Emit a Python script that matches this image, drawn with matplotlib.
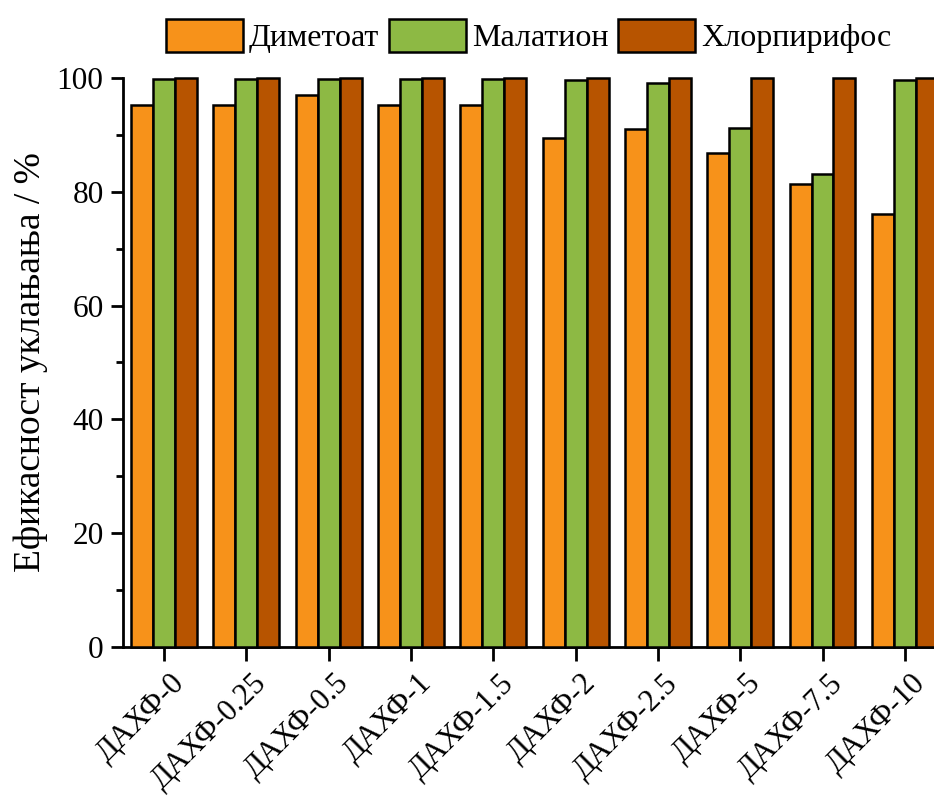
import matplotlib
matplotlib.use("Agg")
import matplotlib.pyplot as plt
import matplotlib.transforms as mtransforms
import numpy as np
from matplotlib.ticker import MultipleLocator

plt.rcParams['font.family'] = ['Liberation Serif', 'DejaVu Serif']

# data
samples = ['ДАХФ-0', 'ДАХФ-0.25', 'ДАХФ-0.5', 'ДАХФ-1', 'ДАХФ-1.5',
           'ДАХФ-2', 'ДАХФ-2.5', 'ДАХФ-5', 'ДАХФ-7.5', 'ДАХФ-10']
dimetoat = [95.3, 95.3, 97.1, 95.3, 95.3, 89.4, 91.1, 86.8, 81.4, 76.1]
malation = [99.8, 99.8, 99.8, 99.8, 99.8, 99.6, 99.2, 91.2, 83.2, 99.7]
hlorpirifos = [100, 100, 100, 100, 100, 100, 100, 100, 100, 100]

series = [('Диметоат', dimetoat, '#F7921A'),
          ('Малатион', malation, '#8DB944'),
          ('Хлорпирифос', hlorpirifos, '#B75400')]

fig = plt.figure(figsize=(9.34, 7.96), dpi=100)
# axes runs past the right edge, like the cropped original
ax = fig.add_axes([0.1317, 0.1872, 0.8811, 0.7148])

x = np.arange(len(samples))
w = 0.267
for i, (name, vals, col) in enumerate(series):
    ax.bar(x + (i - 1) * w, vals, width=w, color=col, edgecolor='black',
           linewidth=1.8, label=name, clip_on=False, zorder=3)

ax.set_xlim(-0.5, 9.5)
ax.set_ylim(0, 100)
ax.yaxis.set_major_locator(MultipleLocator(20))
ax.yaxis.set_minor_locator(MultipleLocator(10))

for s in ['top', 'right']:
    ax.spines[s].set_visible(False)
for s in ['left', 'bottom']:
    ax.spines[s].set_linewidth(2)

ax.tick_params(axis='y', which='major', direction='out', length=9, width=2,
               labelsize=22.5, pad=5)
ax.tick_params(axis='y', which='minor', direction='out', length=5, width=2)
ax.tick_params(axis='x', which='major', direction='out', length=10, width=2,
               labelsize=22, pad=6)

ax.set_xticks(x)
ax.set_xticklabels(samples, rotation=45, ha='right', va='center',
                   rotation_mode='anchor')
offset = mtransforms.ScaledTranslation(0.16, -0.1, fig.dpi_scale_trans)
for lab in ax.get_xticklabels():
    lab.set_transform(lab.get_transform() + offset)

ax.set_ylabel('Ефикасност уклањања / %', fontsize=27, labelpad=6)

ax.legend(loc='center', bbox_to_anchor=(0.566, 1 - 36 / 796), bbox_transform=fig.transFigure,
          ncol=3, frameon=False, fontsize=23, handlelength=2.4, handleheight=1.2,
          handletextpad=0.2, columnspacing=0.3, borderaxespad=0)

fig.savefig('out.png', dpi=100, facecolor='white')
